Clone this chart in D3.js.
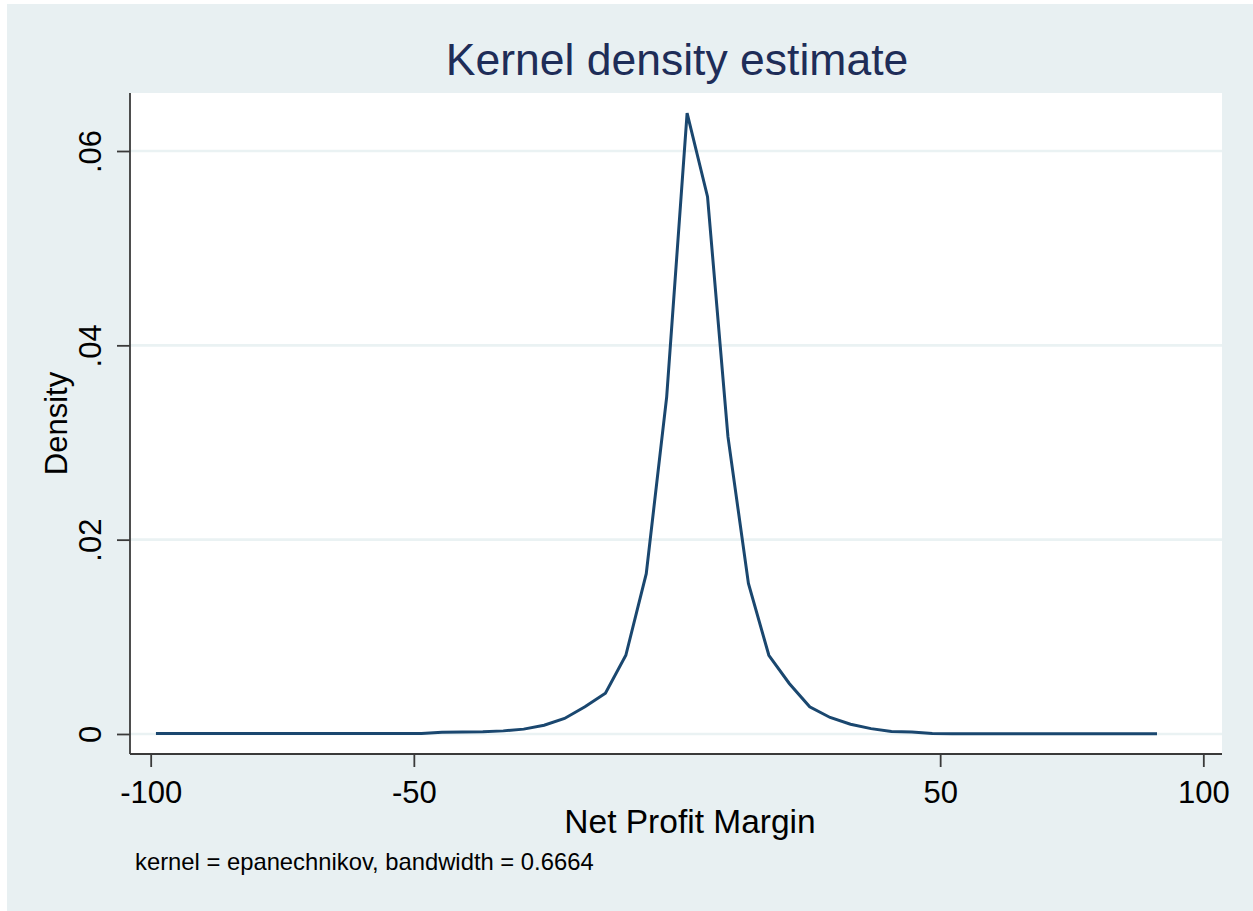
<!DOCTYPE html>
<html>
<head>
<meta charset="utf-8">
<script src="https://cdn.jsdelivr.net/npm/d3@7"></script>
<style>
  body { margin: 0; background: #fff; }
  svg { display: block; font-family: "Liberation Sans", Arial, sans-serif; }
</style>
</head>
<body>
<svg id="chart"></svg>
<script>
// evaluation grid of the kde (Net Profit Margin)
const xPoints = [
  -99.0, -95.12, -91.24, -87.36, -83.47, -79.59, -75.71, -71.83, -67.95, -64.07,
  -60.18, -56.30, -52.42, -48.54, -44.66, -40.78, -36.89, -33.01, -29.13, -25.25,
  -21.37, -17.49, -13.60, -9.72, -5.84, -1.96, 1.92, 5.80, 9.68, 13.57,
  17.45, 21.33, 25.21, 29.09, 32.97, 36.86, 40.74, 44.62, 48.50, 52.38,
  56.26, 60.15, 64.03, 67.91, 71.79, 75.67, 79.55, 83.44, 87.32, 91.20
];

// estimated density at each grid point
const densityValues = [
  0.00006, 0.00006, 0.00006, 0.00006, 0.00006, 0.00006, 0.00006, 0.00006, 0.00006, 0.00006,
  0.00006, 0.00006, 0.00006, 0.00006, 0.00018, 0.0002, 0.00022, 0.00032, 0.0005, 0.0009,
  0.0016, 0.0028, 0.0042, 0.0081, 0.0165, 0.0347, 0.0639, 0.0553, 0.0306, 0.0155,
  0.0081, 0.0052, 0.0028, 0.0017, 0.001, 0.00055, 0.00025, 0.0002, 0.00004, 0.00003,
  0.00003, 0.00003, 0.00003, 0.00003, 0.00003, 0.00003, 0.00003, 0.00003, 0.00003, 0.00003
];

const xTicks = [-100, -50, 50, 100];
const yTicks = [0, 0.02, 0.04, 0.06];
const yTickLabels = ['0', '.02', '.04', '.06'];

const titleText = 'Kernel density estimate';
const xTitle = 'Net Profit Margin';
const yTitle = 'Density';
const noteText = 'kernel = epanechnikov, bandwidth = 0.6664';

class KdeChart {

  constructor(_config) {
    this.config = {
      parentElement: _config.parentElement,
      containerWidth: _config.containerWidth || 1253,
      containerHeight: _config.containerHeight || 911,
      margin: _config.margin || {top: 93, right: 31, bottom: 157, left: 130}
    }
    this.initVis();
  }

  initVis() {
    let vis = this;
    vis.width = vis.config.containerWidth - vis.config.margin.left - vis.config.margin.right;
    vis.height = vis.config.containerHeight - vis.config.margin.top - vis.config.margin.bottom;

    vis.svg = d3.select(vis.config.parentElement)
      .attr('width', vis.config.containerWidth)
      .attr('height', vis.config.containerHeight);

    // outer stata-ish background
    vis.svg.append('rect')
      .attr('x', 7).attr('y', 4)
      .attr('width', vis.config.containerWidth - 7)
      .attr('height', vis.config.containerHeight - 4)
      .attr('fill', '#e8f0f2');

    vis.chart = vis.svg.append('g')
      .attr('transform', `translate(${vis.config.margin.left},${vis.config.margin.top})`);

    vis.chart.append('rect')
      .attr('width', vis.width)
      .attr('height', vis.height)
      .attr('fill', '#ffffff');

    vis.xScale = d3.scaleLinear()
      .domain([-103.93, 103.55])
      .range([0, vis.width]);

    vis.yScale = d3.scaleLinear()
      .domain([-0.00206, 0.06597])
      .range([vis.height, 0]);

    vis.renderVis();
  }

  renderVis() {
    let vis = this;

    // gridlines
    vis.chart.selectAll('.grid')
      .data(yTicks)
      .enter()
      .append('line')
      .attr('class', 'grid')
      .attr('x1', 0).attr('x2', vis.width)
      .attr('y1', d => vis.yScale(d)).attr('y2', d => vis.yScale(d))
      .attr('stroke', '#eaf2f3')
      .attr('stroke-width', 2.6);

    // density curve
    let points = xPoints.map((x, i) => [x, densityValues[i]]);
    let line = d3.line()
      .x(d => vis.xScale(d[0]))
      .y(d => vis.yScale(d[1]));

    vis.chart.append('path')
      .datum(points)
      .attr('d', line)
      .attr('fill', 'none')
      .attr('stroke', '#1a476f')
      .attr('stroke-width', 3)
      .attr('stroke-linejoin', 'miter');

    // axes
    let xAxis = d3.axisBottom(vis.xScale)
      .tickValues(xTicks)
      .tickSize(13)
      .tickSizeOuter(0)
      .tickPadding(14)
      .tickFormat(d => String(d));

    let yAxis = d3.axisLeft(vis.yScale)
      .tickValues(yTicks)
      .tickSize(13)
      .tickSizeOuter(0)
      .tickFormat((d, i) => yTickLabels[i]);

    let xg = vis.chart.append('g')
      .attr('transform', `translate(0,${vis.height})`)
      .call(xAxis);
    xg.select('.domain').attr('d', `M0,0H${vis.width}`);
    xg.selectAll('text')
      .style('font-size', '31px')
      .attr('fill', '#000')
      .attr('dy', '0.71em');

    let yg = vis.chart.append('g').call(yAxis);
    yg.select('.domain').attr('d', `M0,0V${vis.height}`);
    yg.selectAll('text')
      .style('font-size', '31px')
      .attr('fill', '#000')
      .attr('x', null).attr('dy', null)
      .attr('transform', 'translate(-29,0) rotate(-90)')
      .style('text-anchor', 'middle');

    vis.svg.selectAll('.domain, .tick line')
      .attr('stroke', '#3a3a3a')
      .attr('stroke-width', 1.8);

    // titles
    vis.svg.append('text')
      .attr('x', 677).attr('y', 75)
      .attr('text-anchor', 'middle')
      .style('font-size', '44.5px')
      .attr('fill', '#1e2d58')
      .text(titleText);

    vis.svg.append('text')
      .attr('x', 690).attr('y', 833)
      .attr('text-anchor', 'middle')
      .style('font-size', '33.5px')
      .attr('fill', '#000')
      .text(xTitle);

    vis.svg.append('text')
      .attr('transform', `translate(67,${vis.config.margin.top + vis.height / 2}) rotate(-90)`)
      .attr('text-anchor', 'middle')
      .style('font-size', '31px')
      .attr('fill', '#000')
      .text(yTitle);

    vis.svg.append('text')
      .attr('x', 135).attr('y', 870)
      .style('font-size', '23.8px')
      .attr('fill', '#000')
      .text(noteText);
  }
}

new KdeChart({parentElement: '#chart'});
</script>
</body>
</html>
